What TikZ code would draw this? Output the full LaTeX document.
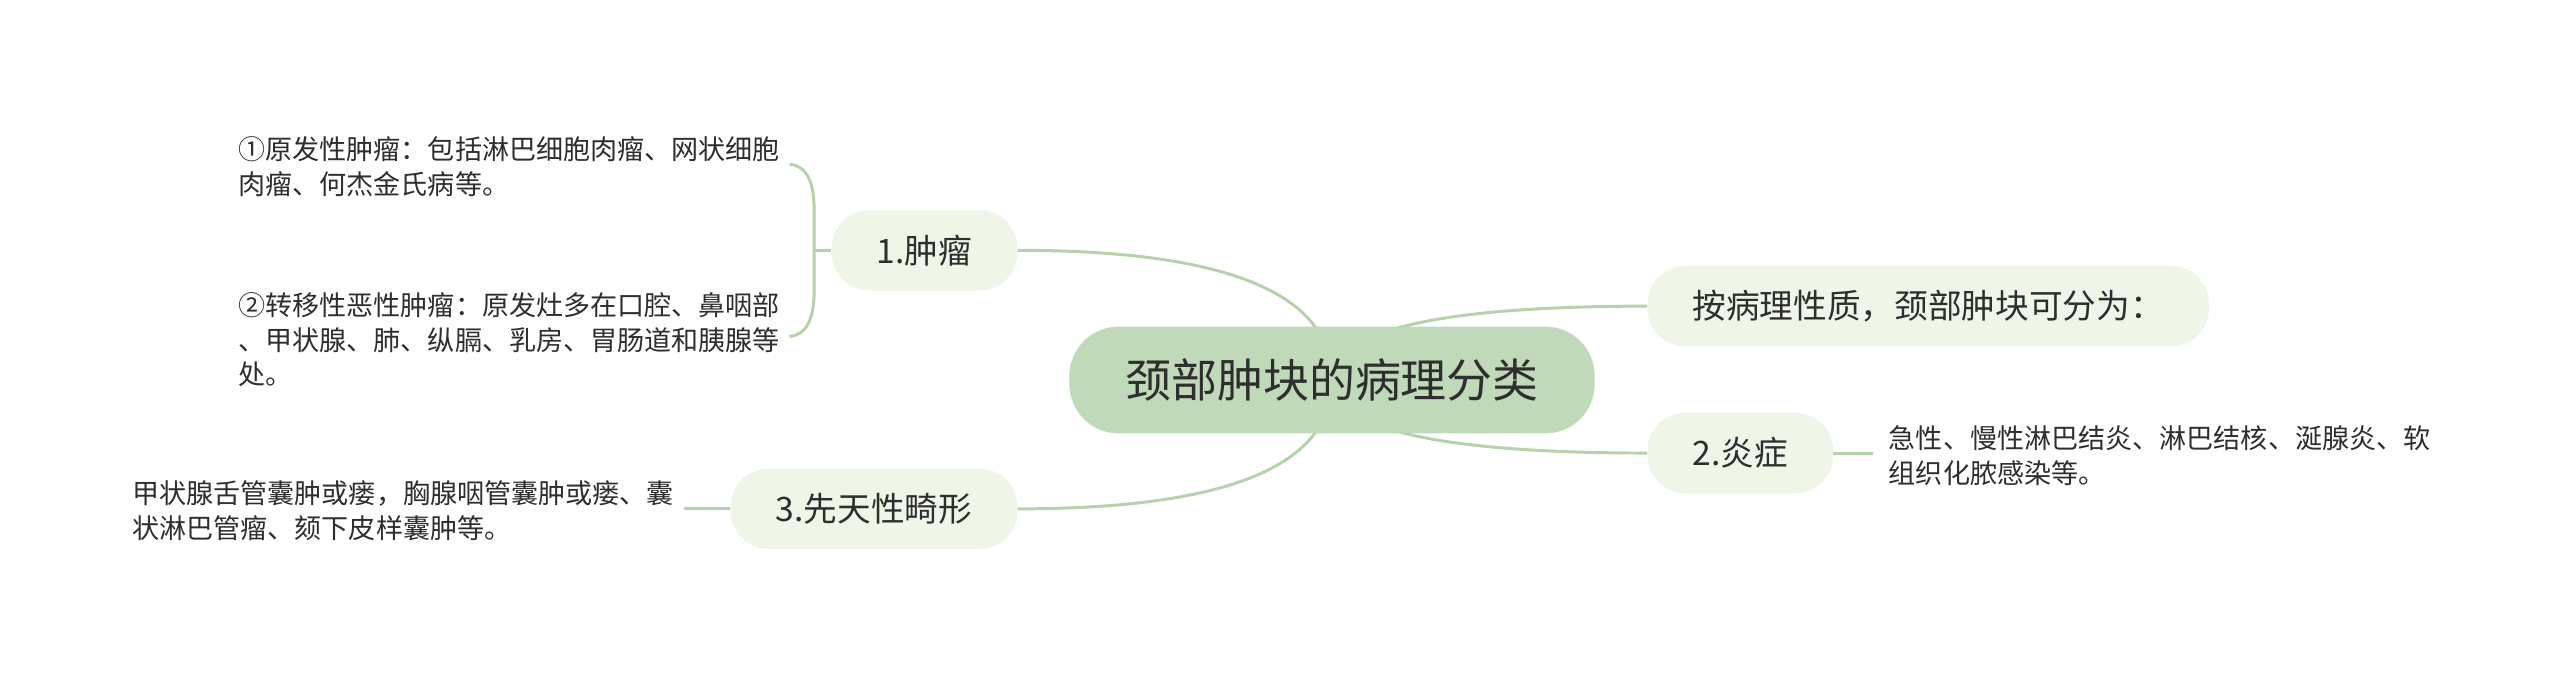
\documentclass[tikz,border=0pt]{standalone}
\usepackage{fontspec}
\setmainfont{Noto Sans CJK SC}
\usetikzlibrary{calc}
\definecolor{linec}{HTML}{B5D2AA}
\definecolor{rootc}{HTML}{C0D9B8}
\definecolor{subc}{HTML}{EFF6E7}
\definecolor{txt}{HTML}{2E2E2E}
\pgfdeclarelayer{bg}
\pgfdeclarelayer{lines}
\pgfsetlayers{bg,lines,main}
\begin{document}
\begin{tikzpicture}[x=1pt,y=-1pt,
  conn/.style={draw=linec, line width=1.8pt},
  root/.style={fill=rootc, rounded corners=30pt, minimum height=65pt, inner xsep=34pt, inner ysep=0pt, text=txt, font=\fontsize{28}{34}\selectfont},
  sub/.style={fill=subc, rounded corners=23pt, minimum height=49pt, inner xsep=27.5pt, inner ysep=0pt, text=txt, font=\fontsize{20.5}{24}\selectfont},
  leaf/.style={align=left, inner sep=0pt, anchor=west, text=txt, font=\fontsize{16.5}{21}\selectfont}]
\begin{pgfonlayer}{bg}
\fill[white] (0,0) rectangle (1559.6,410);
\end{pgfonlayer}
\useasboundingbox (0,0) rectangle (1559.6,410);

\node[root] (c) at (811.5,231.5) {颈部肿块的病理分类};
\node[sub, anchor=east] (n1) at (620,152.5) {1.肿瘤};
\node[sub, anchor=west] (n2) at (1003.5,186.5) {按病理性质，颈部肿块可分为：};
\node[sub, anchor=west] (n3) at (1003.5,276) {2.炎症};
\node[sub, anchor=east] (n4) at (620,310) {3.先天性畸形};

\node[leaf] (t1) at (145,101.5) {①原发性肿瘤：包括淋巴细胞肉瘤、网状细胞\\肉瘤、何杰金氏病等。};
\node[leaf] (t2) at (145,207) {②转移性恶性肿瘤：原发灶多在口腔、鼻咽部\\、甲状腺、肺、纵膈、乳房、胃肠道和胰腺等\\处。};
\node[leaf] (t3) at (80.4,311) {甲状腺舌管囊肿或瘘，胸腺咽管囊肿或瘘、囊\\状淋巴管瘤、颏下皮样囊肿等。};
\node[leaf] (t4) at (1150.5,277.5) {急性、慢性淋巴结炎、淋巴结核、涎腺炎、软\\组织化脓感染等。};

\coordinate (br) at (496.2,152.5);
\coordinate (bt) at (481,100);
\coordinate (bb) at (481,205);
\coordinate (s3) at (417,310);
\coordinate (s4) at (1141,276);

\begin{pgfonlayer}{lines}
\foreach \t/\a in {n1/east, n4/east, n2/west, n3/west}{
  \draw[conn] (c.center) .. controls ($(c.center)!2/3!(c.center|-\t.\a)$) and ($(\t.\a)!2/3!(c.center|-\t.\a)$) .. (\t.\a);
}
\draw[conn] (n1.west) -- (br);
\draw[conn] (bt) .. controls (491,101) and (496,110) .. (496,128) -- (496,177) .. controls (496,195) and (491,204) .. (bb);
\draw[conn] (n4.west) -- (s3);
\draw[conn] (n3.east) -- (s4);
\end{pgfonlayer}
\end{tikzpicture}
\end{document}
